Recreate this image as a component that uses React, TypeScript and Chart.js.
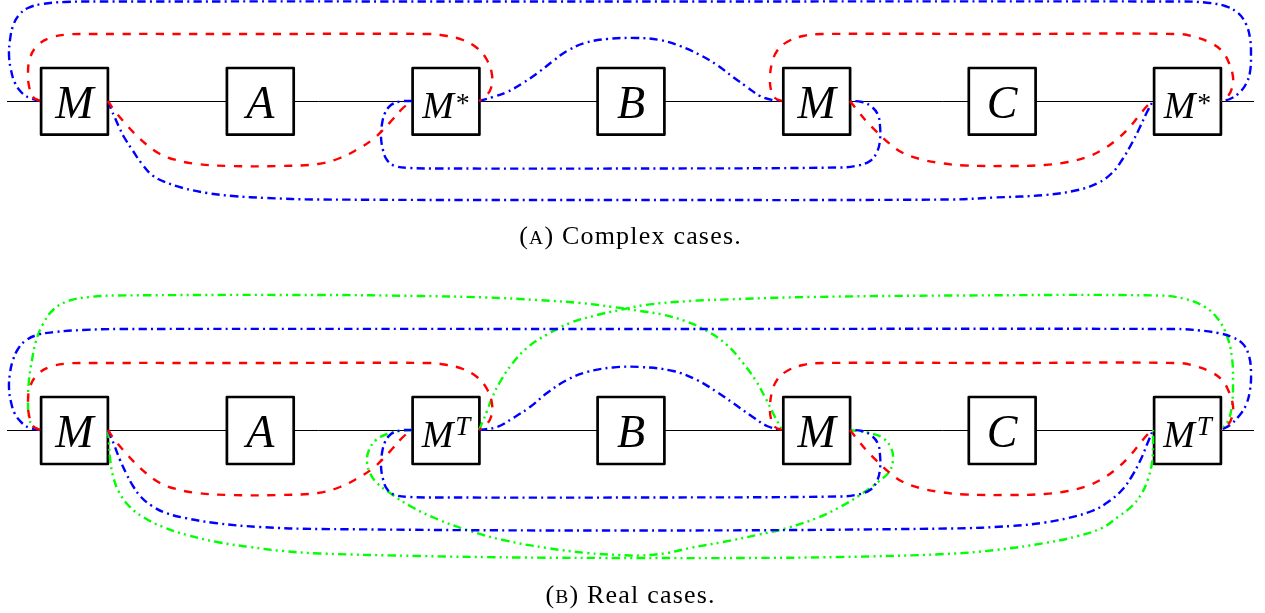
import React, { useEffect, useRef } from 'react';
import { Chart, registerables } from 'chart.js';

Chart.register(...registerables);

type P = [number, number];

// ---- layout of the two diagrams (chart units = page pixels) ----
const nodeCenters = [74.5, 260.3, 446, 631, 816.7, 1002.2, 1187.5];
const boxHalf = 33.4;
const boxTopA = 68;
const boxBottomA = 134.7;
const boxTopB = 397;
const boxBottomB = 464;
const wireA: P[] = [[7, 101.5], [1254, 101.5]];
const wireB: P[] = [[7, 430.5], [1254, 430.5]];

const labelsA = ['M', 'A', 'M*', 'B', 'M', 'C', 'M*'];
const labelsB = ['M', 'A', 'MT', 'B', 'M', 'C', 'MT'];
const labelBaseA = 118;
const labelBaseB = 447;
const captionA = ['A', ' Complex cases.'];
const captionB = ['B', ' Real cases.'];
const captionBaseA = 244;
const captionBaseB = 603;
const captionX = 630;

// ---- (A) Complex cases ----
const redA1: P[] = [[40, 101], [33, 97], [29, 86], [28, 72], [30, 58], [37, 46], [50, 38], [68, 34.5], [90, 34], [260, 34], [430, 34], [447, 36], [463, 40], [477, 48], [487, 60], [492, 75], [491, 88], [486, 96], [479, 101]];
const redA2: P[] = [[108, 101], [114, 110], [124, 122], [135, 134], [147, 145], [160, 154], [176, 160], [197, 164], [230, 166], [280, 166], [318, 164], [340, 158], [358, 149], [372, 140], [383, 130], [393, 119], [403, 108], [412, 101]];
const redA3: P[] = [[782, 101], [775, 98], [771, 90], [770, 77], [772, 63], [777, 51], [787, 42], [803, 36], [822, 34], [1000, 34], [1178, 34], [1195, 37], [1211, 43], [1222, 51], [1229, 63], [1233, 77], [1232, 88], [1228, 96], [1221, 101]];
const redA4: P[] = [[850, 101], [857, 110], [867, 122], [878, 133], [890, 144], [903, 153], [920, 159], [940, 163], [965, 165.5], [1010, 166], [1045, 165], [1068, 162], [1087, 157], [1102, 150], [1115, 141], [1127, 130], [1138, 117], [1147, 106], [1153, 101]];
const blueA1: P[] = [[40, 101], [30, 98], [22, 93], [15, 83], [11, 70], [9, 55], [10, 40], [13, 26], [19, 15], [28, 8], [42, 4], [65, 2], [100, 1.5], [640, 1.5], [1180, 1.5], [1205, 2.5], [1225, 6], [1238, 13], [1246, 24], [1250, 38], [1251, 55], [1250, 72], [1246, 84], [1239, 93], [1230, 99], [1221, 101]];
const blueA2: P[] = [[108, 101], [111, 109], [115, 118], [119, 127], [124, 137], [133, 151], [142, 164], [152, 175], [165, 182], [183, 188], [207, 193], [233, 196], [267, 198], [317, 199.5], [640, 200], [950, 199.5], [995, 197.5], [1045, 195], [1078, 190], [1098, 183], [1112, 173], [1122, 160], [1132, 143], [1140, 127], [1147, 112], [1153, 101]];
const blueA3: P[] = [[479, 101], [493, 97], [507, 92], [523, 83], [539, 72], [553, 61], [567, 51], [585, 43], [607, 39], [637, 38], [660, 40], [680, 46], [700, 55], [717, 65], [733, 77], [747, 87], [760, 96], [772, 100], [782, 101]];
const blueA4: P[] = [[412, 101], [400, 101.5], [391, 105], [385, 113], [382, 124], [381, 137], [383, 150], [387, 160], [395, 166], [410, 168], [440, 168.5], [640, 168.5], [840, 167.5], [858, 165.5], [870, 161], [877, 152], [880, 140], [880, 126], [878, 115], [872, 107], [862, 102], [850, 101]];

// ---- (B) Real cases ----
const redB1: P[] = [[40, 430], [33, 426], [29, 415], [28, 401], [30, 387], [37, 375], [50, 367], [68, 363.5], [90, 363], [260, 363], [430, 363], [447, 365], [463, 369], [477, 377], [487, 389], [492, 404], [491, 417], [486, 425], [479, 430]];
const redB2: P[] = [[108, 430], [114, 439], [124, 451], [135, 463], [147, 474], [160, 483], [176, 489], [197, 493], [230, 495], [280, 495], [318, 493], [340, 487], [358, 478], [372, 469], [383, 459], [393, 448], [403, 437], [412, 430]];
const redB3: P[] = [[782, 430], [775, 427], [771, 419], [770, 406], [772, 392], [777, 380], [787, 371], [803, 365], [822, 363], [1000, 363], [1178, 363], [1195, 366], [1211, 372], [1222, 380], [1229, 392], [1233, 406], [1232, 417], [1228, 425], [1221, 430]];
const redB4: P[] = [[850, 430], [857, 439], [867, 451], [878, 462], [890, 473], [903, 482], [920, 488], [940, 492], [965, 494.5], [1010, 495], [1045, 494], [1068, 491], [1087, 486], [1102, 479], [1115, 470], [1127, 459], [1138, 446], [1147, 435], [1153, 430]];
const blueB1: P[] = [[40, 430], [30, 428], [22, 423], [15, 414], [11, 402], [9, 388], [10, 373], [13, 360], [18, 349], [25, 341], [37, 335], [55, 332], [83, 330], [120, 329], [640, 329], [1175, 329], [1200, 330.5], [1218, 333], [1232, 337], [1243, 344], [1249, 356], [1251, 372], [1250, 390], [1246, 405], [1239, 416], [1230, 425], [1221, 430]];
const blueB2: P[] = [[108, 430], [111, 437], [115, 447], [120, 460], [126, 473], [133, 486], [141, 497], [152, 506], [166, 513], [185, 518], [215, 523], [260, 527], [320, 529], [640, 530.5], [950, 528.5], [1012, 526], [1045, 522.5], [1068, 518], [1092, 511], [1108, 502], [1122, 490], [1132, 476], [1141, 459], [1148, 442], [1153, 430]];
const blueB3: P[] = [[479, 430], [497, 427], [513, 418], [530, 407], [547, 393], [567, 380], [587, 372], [613, 367.5], [640, 367], [673, 371], [697, 380], [717, 392], [733, 403], [750, 415], [767, 426], [782, 430]];
const blueB4: P[] = [[412, 430], [400, 430.5], [391, 434], [385, 442], [382, 453], [381, 466], [383, 479], [387, 489], [395, 495], [410, 497], [440, 497.5], [640, 497.5], [840, 496.5], [858, 494.5], [870, 490], [877, 481], [880, 469], [880, 455], [878, 444], [872, 436], [862, 431], [850, 430]];
const greenB1: P[] = [[40, 430], [33, 427], [29, 417], [28, 400], [29, 380], [32, 360], [36, 341], [43, 324], [53, 310], [68, 301], [90, 297], [117, 295.5], [320, 295], [420, 296], [487, 297.5], [537, 300], [580, 303], [613, 307], [640, 311], [662, 314.5], [685, 321], [707, 331], [727, 345], [743, 363], [756, 381], [766, 399], [774, 415], [782, 430]];
const greenB2: P[] = [[479, 430], [483, 421], [487, 411], [492, 398], [500, 382], [512, 364], [528, 347], [548, 334], [570, 323], [597, 315], [620, 310], [645, 305], [690, 301], [740, 299], [810, 297], [960, 295.5], [1160, 295.5], [1185, 299], [1205, 307], [1218, 319], [1227, 336], [1232, 358], [1233, 382], [1232, 405], [1228, 421], [1221, 430]];
const greenB3: P[] = [[108, 430], [109, 443], [110, 458], [113, 476], [119, 492], [129, 506], [143, 517], [163, 527], [187, 535], [217, 542], [250, 547], [283, 551], [320, 553.5], [420, 556], [520, 557.5], [640, 558], [740, 558], [840, 557], [945, 554], [995, 550], [1045, 543], [1078, 536], [1102, 528], [1118, 517], [1132, 506], [1142, 493], [1148, 479], [1152, 463], [1153, 447], [1153, 430]];
const greenB4: P[] = [[412, 430], [400, 431], [387, 434], [376, 440], [369, 450], [367, 462], [370, 473], [377, 483], [390, 493], [410, 506], [437, 519], [467, 530], [503, 540], [547, 548], [587, 553], [620, 555], [640, 555.5], [667, 553], [690, 548], [723, 542], [757, 535], [787, 528], [817, 518], [840, 507], [860, 495], [878, 482], [889, 472], [893, 460], [891, 448], [883, 438], [870, 433], [857, 431], [850, 430]];

const RED = '#ff0000';
const BLUE = '#0000ff';
const GREEN = '#00ff00';
const DASHED = [8.3, 8.4];
const DASHDOT = [8.3, 4.2, 2, 4.2];
const DASHDOTDOT = [8.3, 4.2, 2, 4.2, 2, 4.2];

const SERIF = '"Liberation Serif", "DejaVu Serif", serif';

function toXY(pts: P[]) {
  return pts.map(([x, y]) => ({ x, y }));
}

function curve(pts: P[], color: string, dash: number[]) {
  return {
    data: toXY(pts),
    showLine: true,
    borderColor: color,
    borderWidth: 2.4,
    borderDash: dash,
    borderCapStyle: 'butt',
    pointRadius: 0,
    pointHoverRadius: 0,
    tension: 0.4,
    fill: false,
    order: 0,
  };
}

function box(cx: number, top: number, bottom: number) {
  const l = cx - boxHalf;
  const r = cx + boxHalf;
  return {
    data: toXY([[l, top], [r, top], [r, bottom], [l, bottom], [l, top]]),
    showLine: true,
    borderColor: '#000',
    backgroundColor: '#ffffff',
    borderWidth: 2.7,
    borderJoinStyle: 'round',
    borderCapStyle: 'round',
    pointRadius: 0,
    pointHoverRadius: 0,
    tension: 0,
    fill: 'shape',
    order: 1,
  };
}

function wire(pts: P[]) {
  return {
    data: toXY(pts),
    showLine: true,
    borderColor: '#000',
    borderWidth: 1,
    pointRadius: 0,
    pointHoverRadius: 0,
    tension: 0,
    fill: false,
    order: 2,
  };
}

function drawNodeLabel(ctx: CanvasRenderingContext2D, label: string, cx: number, base: number) {
  ctx.textAlign = 'left';
  ctx.textBaseline = 'alphabetic';
  if (label === 'M*' || label === 'MT') {
    ctx.font = `italic 38px ${SERIF}`;
    const wM = ctx.measureText('M').width;
    let wS = 0;
    if (label === 'M*') {
      ctx.font = `28px ${SERIF}`;
      wS = ctx.measureText('*').width;
    } else {
      ctx.font = `italic 27px ${SERIF}`;
      wS = ctx.measureText('T').width;
    }
    const gap = 2;
    const start = cx - (wM + gap + wS) / 2;
    ctx.font = `italic 38px ${SERIF}`;
    ctx.fillText('M', start, base);
    if (label === 'M*') {
      ctx.font = `28px ${SERIF}`;
      ctx.fillText('*', start + wM + gap, base - 6);
    } else {
      ctx.font = `italic 27px ${SERIF}`;
      ctx.fillText('T', start + wM + gap, base - 12);
    }
  } else {
    ctx.font = `italic 46px ${SERIF}`;
    ctx.textAlign = 'center';
    ctx.fillText(label, cx, base);
  }
}

function drawCaption(ctx: CanvasRenderingContext2D, parts: string[], cx: number, base: number) {
  const main = `26px ${SERIF}`;
  const small = `19.5px ${SERIF}`;
  const spacing = 1.2;
  const chars: [string, string][] = [];
  chars.push(['(', main]);
  for (const ch of parts[0]) chars.push([ch, small]);
  chars.push([')', main]);
  for (const ch of parts[1]) chars.push([ch, main]);
  const widths = chars.map(([c, f]) => {
    ctx.font = f;
    return ctx.measureText(c).width;
  });
  const total = widths.reduce((a, b) => a + b, 0) + spacing * (chars.length - 1);
  let x = cx - total / 2;
  ctx.textAlign = 'left';
  ctx.textBaseline = 'alphabetic';
  chars.forEach(([c, f], i) => {
    ctx.font = f;
    ctx.fillText(c, x, base);
    x += widths[i] + spacing;
  });
}

const textPlugin = {
  id: 'diagramText',
  afterDatasetsDraw(chart: any) {
    const ctx: CanvasRenderingContext2D = chart.ctx;
    const xs = chart.scales.x;
    const ys = chart.scales.y;
    ctx.save();
    ctx.fillStyle = '#000';
    labelsA.forEach((lab, i) => drawNodeLabel(ctx, lab, xs.getPixelForValue(nodeCenters[i]), ys.getPixelForValue(labelBaseA)));
    labelsB.forEach((lab, i) => drawNodeLabel(ctx, lab, xs.getPixelForValue(nodeCenters[i]), ys.getPixelForValue(labelBaseB)));
    drawCaption(ctx, captionA, xs.getPixelForValue(captionX), ys.getPixelForValue(captionBaseA));
    drawCaption(ctx, captionB, xs.getPixelForValue(captionX), ys.getPixelForValue(captionBaseB));
    ctx.restore();
  },
};

export default function App() {
  const ref = useRef<HTMLCanvasElement | null>(null);
  useEffect(() => {
    if (!ref.current) return;
    const datasets: any[] = [
      curve(redA1, RED, DASHED),
      curve(redA2, RED, DASHED),
      curve(redA3, RED, DASHED),
      curve(redA4, RED, DASHED),
      curve(blueA1, BLUE, DASHDOT),
      curve(blueA2, BLUE, DASHDOT),
      curve(blueA3, BLUE, DASHDOT),
      curve(blueA4, BLUE, DASHDOT),
      curve(redB1, RED, DASHED),
      curve(redB2, RED, DASHED),
      curve(redB3, RED, DASHED),
      curve(redB4, RED, DASHED),
      curve(blueB1, BLUE, DASHDOT),
      curve(blueB2, BLUE, DASHDOT),
      curve(blueB3, BLUE, DASHDOT),
      curve(blueB4, BLUE, DASHDOT),
      curve(greenB1, GREEN, DASHDOTDOT),
      curve(greenB2, GREEN, DASHDOTDOT),
      curve(greenB3, GREEN, DASHDOTDOT),
      curve(greenB4, GREEN, DASHDOTDOT),
      ...nodeCenters.map((c) => box(c, boxTopA, boxBottomA)),
      ...nodeCenters.map((c) => box(c, boxTopB, boxBottomB)),
      wire(wireA),
      wire(wireB),
    ];
    const chart = new Chart(ref.current, {
      type: 'scatter',
      data: { datasets },
      options: {
        animation: false,
        responsive: false,
        events: [],
        layout: { padding: 0 },
        plugins: { legend: { display: false }, tooltip: { enabled: false } },
        scales: {
          x: { type: 'linear', min: 0, max: 1265, display: false },
          y: { type: 'linear', min: 0, max: 613, reverse: true, display: false },
        },
      },
      plugins: [textPlugin],
    } as any);
    return () => chart.destroy();
  }, []);
  return (
    <div style={{ position: 'fixed', left: 0, top: 0, width: 1265, height: 613, background: '#fff' }}>
      <canvas ref={ref} width={1265} height={613} style={{ display: 'block' }} />
    </div>
  );
}
